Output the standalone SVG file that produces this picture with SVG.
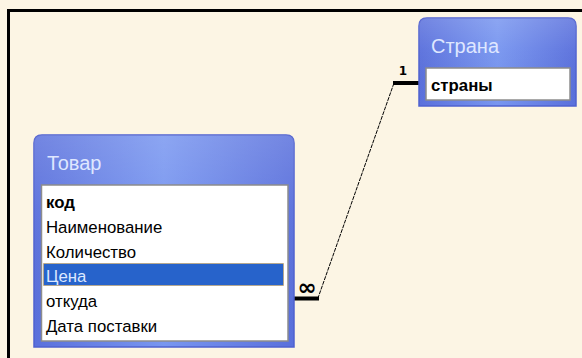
<svg xmlns="http://www.w3.org/2000/svg" width="582" height="358" viewBox="0 0 582 358">
  <defs>
    <linearGradient id="tblH" x1="0" y1="0" x2="1" y2="0">
      <stop offset="0" stop-color="#5a70dc"/>
      <stop offset="0.5" stop-color="#7896f0"/>
      <stop offset="1" stop-color="#5a70dc"/>
    </linearGradient>
    <linearGradient id="tblV" x1="0" y1="0" x2="0" y2="1">
      <stop offset="0" stop-color="#ffffff" stop-opacity="0.15"/>
      <stop offset="0.35" stop-color="#ffffff" stop-opacity="0.04"/>
      <stop offset="1" stop-color="#000000" stop-opacity="0"/>
    </linearGradient>
  </defs>
  <style>
    .bg { fill: #fcf5e4; }
    .frame { fill: none; stroke: #000000; stroke-width: 3; }
    .tbl { fill: url(#tblH); stroke: #4f61d0; stroke-width: 1.5; }
    .gloss { fill: url(#tblV); }
    .list { fill: #ffffff; stroke: #8c8c8c; stroke-width: 1.5; }
    .title { font-family: "Liberation Sans", Arial, sans-serif; font-size: 20px; fill: #dfe7ff; }
    .row { font-family: "Liberation Sans", Arial, sans-serif; font-size: 16.8px; fill: #000000; }
    .bold { font-weight: bold; }
    .sel { fill: #2763cb; stroke: #d9a13a; stroke-width: 1; stroke-dasharray: 1 1; }
    .selt { fill: #dce8ff; }
    .thick { stroke: #000000; stroke-width: 4; fill: none; }
    .thin { stroke: #000000; stroke-width: 1; fill: none; stroke-dasharray: 4 1; }
    .card { font-family: "DejaVu Sans", sans-serif; font-weight: bold; fill: #000000; }
  </style>

  <rect class="bg" x="0" y="0" width="582" height="358"/>
  <path class="frame" d="M8.5,358 V10.5 H582"/>

  <g id="connectors">
    <line class="thick" x1="393" y1="83" x2="419" y2="83"/>
    <line class="thin" x1="394" y1="83" x2="318" y2="298"/>
    <line class="thick" x1="294" y1="298.5" x2="319" y2="298.5"/>
    <text class="card" x="403" y="75" font-size="12" text-anchor="middle">1</text>
    <text class="card" x="307" y="295" font-size="23" text-anchor="middle">∞</text>
  </g>

  <g id="strana">
    <path class="tbl" d="M419,106 V26 Q419,18 427,18 H568 Q576,18 576,26 V106 Z"/>
    <path class="gloss" d="M419,106 V26 Q419,18 427,18 H568 Q576,18 576,26 V106 Z"/>
    <text class="title" x="431" y="53">Страна</text>
    <rect class="list" x="426" y="68" width="144" height="32"/>
    <text class="row bold" x="431" y="91">страны</text>
  </g>

  <g id="tovar">
    <path class="tbl" d="M34,347 V143 Q34,135 42,135 H286 Q294,135 294,143 V347 Z"/>
    <path class="gloss" d="M34,347 V143 Q34,135 42,135 H286 Q294,135 294,143 V347 Z"/>
    <text class="title" x="47" y="170">Товар</text>
    <rect class="list" x="41.5" y="185" width="246.5" height="156"/>
    <rect class="sel" x="43.5" y="263.5" width="240" height="22"/>
    <text class="row bold" x="46" y="208">код</text>
    <text class="row" x="46" y="233">Наименование</text>
    <text class="row" x="46" y="258">Количество</text>
    <text class="row selt" x="46" y="282">Цена</text>
    <text class="row" x="46" y="307">откуда</text>
    <text class="row" x="46" y="332">Дата поставки</text>
  </g>
</svg>
